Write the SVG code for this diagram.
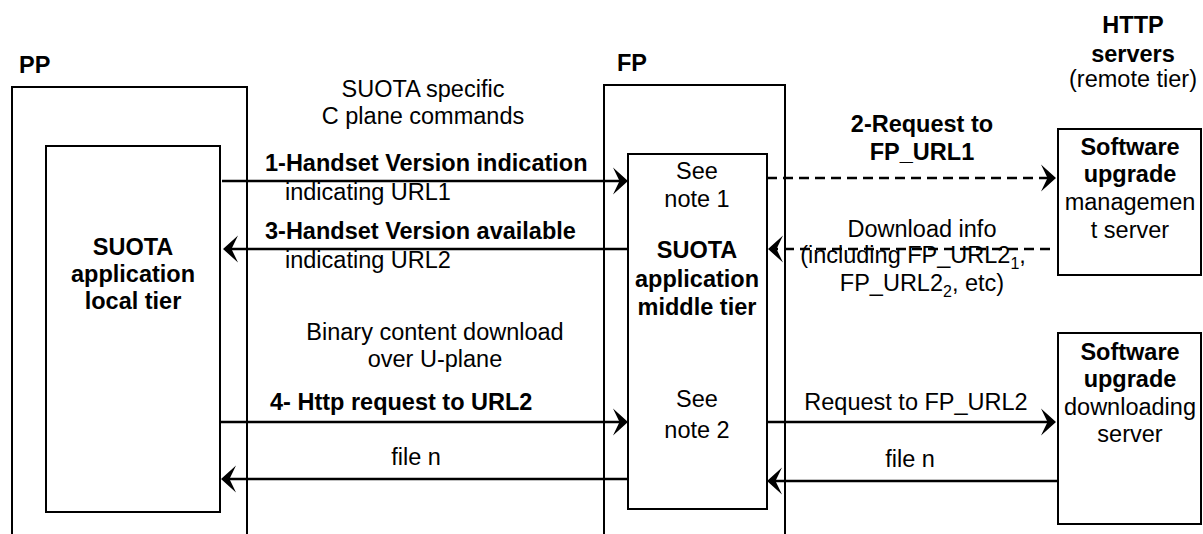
<svg xmlns="http://www.w3.org/2000/svg" width="1203" height="534" viewBox="0 0 1203 534">
<style>
  text { font-family: "Liberation Sans", Arial, sans-serif; font-size: 23.5px; fill: #000; }
  .b { font-weight: bold; }
  .m { text-anchor: middle; }
  .box { fill: #fff; stroke: #000; stroke-width: 2; }
  .open { fill: none; stroke: #000; stroke-width: 2; }
  .ln { fill: none; stroke: #000; stroke-width: 2.5; marker-end: url(#ah); }
  .dash { stroke-dasharray: 10 6; }
  .sub { font-size: 16px; }
</style>
<defs>
  <marker id="ah" markerUnits="userSpaceOnUse" viewBox="-11 -15 18 30" markerWidth="18" markerHeight="30" refX="0" refY="0" orient="auto">
    <path d="M6,0 L-9,-13.5 L-2.5,0 L-9,13.5 Z" fill="#000"/>
  </marker>
</defs>
<rect width="1203" height="534" fill="#fff"/>

<g id="pp">
  <path class="open" d="M12,534 V87 H247 V534"/>
  <text class="b" x="19" y="73">PP</text>
</g>
<g id="pp-local-tier">
  <rect class="box" x="46" y="146" width="174" height="366"/>
  <text class="b m" x="133" y="255">SUOTA</text>
  <text class="b m" x="133" y="282">application</text>
  <text class="b m" x="133" y="309">local tier</text>
</g>
<g id="fp">
  <path class="open" d="M604,534 V85 H785 V534"/>
  <text class="b" x="617" y="71">FP</text>
</g>
<g id="fp-middle-tier">
  <rect class="box" x="628" y="154" width="139" height="355"/>
  <text class="m" x="697" y="179">See</text>
  <text class="m" x="697" y="207">note 1</text>
  <text class="b m" x="697" y="258">SUOTA</text>
  <text class="b m" x="697" y="287">application</text>
  <text class="b m" x="697" y="315">middle tier</text>
  <text class="m" x="697" y="407">See</text>
  <text class="m" x="697" y="438">note 2</text>
</g>
<g id="http-servers">
  <text class="b m" x="1133" y="33">HTTP</text>
  <text class="b m" x="1133" y="62">servers</text>
  <text class="m" x="1133" y="87">(remote tier)</text>
</g>
<g id="mgmt-server">
  <rect class="box" x="1058" y="129" width="143" height="146"/>
  <text class="b m" x="1130" y="155">Software</text>
  <text class="b m" x="1130" y="182">upgrade</text>
  <text class="m" x="1130" y="210">managemen</text>
  <text class="m" x="1130" y="238">t server</text>
</g>
<g id="download-server">
  <rect class="box" x="1058" y="333" width="143" height="191"/>
  <text class="b m" x="1130" y="360">Software</text>
  <text class="b m" x="1130" y="387">upgrade</text>
  <text class="m" x="1130" y="415">downloading</text>
  <text class="m" x="1130" y="442">server</text>
</g>

<g id="connectors">
  <path class="ln" d="M222,181 H622"/>
  <path class="ln" d="M628,249 H229"/>
  <path class="ln" d="M221,422 H622"/>
  <path class="ln" d="M628,479 H227"/>
  <path class="ln dash" d="M767,178 H1050"/>
  <path class="ln dash" d="M1050,249 H774"/>
  <path class="ln" d="M766,422 H1050"/>
  <path class="ln" d="M1058,481 H773"/>
</g>

<g id="labels">
  <text class="m" x="423" y="97">SUOTA specific</text>
  <text class="m" x="423" y="124">C plane commands</text>
  <text class="b" x="265" y="171">1-Handset Version indication</text>
  <text x="285" y="200">indicating URL1</text>
  <text class="b" x="265" y="239">3-Handset Version available</text>
  <text x="285" y="268">indicating URL2</text>
  <text class="m" x="435" y="340">Binary content download</text>
  <text class="m" x="435" y="367">over U-plane</text>
  <text class="b" x="270" y="410">4- Http request to URL2</text>
  <text class="m" x="416" y="465">file n</text>
  <text class="b m" x="922" y="132">2-Request to</text>
  <text class="b m" x="922" y="160">FP_URL1</text>
  <text class="m" x="922" y="237">Download info</text>
  <text class="m" x="913" y="263">(including FP_URL2<tspan class="sub" dy="6">1</tspan><tspan dy="-6">,</tspan></text>
  <text class="m" x="922" y="291">FP_URL2<tspan class="sub" dy="6">2</tspan><tspan dy="-6">, etc)</tspan></text>
  <text class="m" x="916" y="410">Request to FP_URL2</text>
  <text class="m" x="910" y="467">file n</text>
</g>
</svg>
